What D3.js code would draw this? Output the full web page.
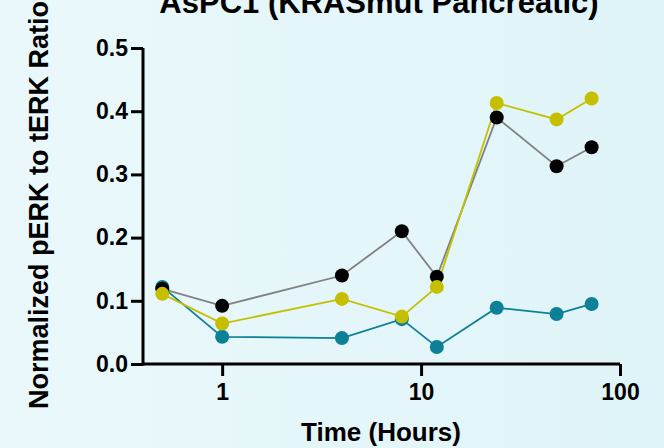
<!DOCTYPE html>
<html>
<head>
<meta charset="utf-8">
<script src="https://cdn.jsdelivr.net/npm/d3@7"></script>
<style>
  html, body { margin: 0; padding: 0; }
  body { width: 664px; height: 448px; overflow: hidden; }
  text { font-family: "Liberation Sans", Arial, sans-serif; font-weight: bold; fill: #000; }
</style>
</head>
<body>
<div id="chart"></div>
<script>
// DATA
const hours = [0.5, 1, 4, 8, 12, 24, 48, 72]
const blackSeries = [0.119, 0.092, 0.140, 0.210, 0.138, 0.390, 0.313, 0.343]
const yellowSeries = [0.111, 0.064, 0.103, 0.075, 0.122, 0.413, 0.387, 0.420]
const tealSeries = [0.122, 0.043, 0.041, 0.071, 0.027, 0.089, 0.079, 0.095]
const xTicks = [1, 10, 100]
const yTicks = [0, 0.1, 0.2, 0.3, 0.4, 0.5]

const series = [
  { values: tealSeries, line: '#0b8096', dot: '#0b8096' },
  { values: blackSeries, line: '#808080', dot: '#000000' },
  { values: yellowSeries, line: '#c5bf00', dot: '#c5bf00' }
]

//BOX
const w = 664
const h = 448
const mLeft = 143
const mRight = 620
const mTop = 48
const mBottom = 364

const svg = d3.select('#chart')
  .append('svg')
  .attr('width', w)
  .attr('height', h)

// background gradient
const grad = svg.append('defs')
  .append('linearGradient')
  .attr('id', 'bg')
  .attr('x1', '0%').attr('x2', '100%').attr('y1', '0%').attr('y2', '0%')
grad.append('stop').attr('offset', '0%').attr('stop-color', '#eaf8fb')
grad.append('stop').attr('offset', '100%').attr('stop-color', '#dff4f8')

svg.append('rect')
  .attr('width', w)
  .attr('height', h)
  .attr('fill', 'url(#bg)')

//SCALES
const xScale = d3.scaleLog()
  .domain([0.4, 100])
  .range([mLeft, mRight])

const yScale = d3.scaleLinear()
  .domain([0, 0.5])
  .range([mBottom, mTop])

//AXES
const xaxis = d3.axisBottom(xScale)
  .tickValues(xTicks)
  .tickFormat(d3.format('d'))
  .tickSize(12)
  .tickPadding(8)

const yaxis = d3.axisLeft(yScale)
  .tickValues(yTicks)
  .tickFormat(d3.format('.1f'))
  .tickSize(12)
  .tickPadding(3)

const gx = svg.append('g')
  .attr('transform', 'translate(0,' + mBottom + ')')
  .call(xaxis)

const gy = svg.append('g')
  .attr('transform', 'translate(' + mLeft + ',0)')
  .call(yaxis)

gx.select('.domain').attr('d', `M${mLeft},0H${mRight}`)
gy.select('.domain').attr('d', `M0,${mBottom + 1.5}V${mTop}`)

;[gx, gy].forEach(g => {
  g.select('.domain').attr('stroke', '#000').attr('stroke-width', 3)
  g.selectAll('.tick line').attr('stroke', '#000').attr('stroke-width', 3)
  g.selectAll('.tick text').style('font-size', '23px').attr('fill', '#000')
})

//LINES + DOTS
const line = d3.line()
  .x((d, i) => xScale(hours[i]))
  .y(d => yScale(d))

series.forEach(s => {
  svg.append('path')
    .datum(s.values)
    .attr('fill', 'none')
    .attr('stroke', s.line)
    .attr('stroke-width', 1.8)
    .attr('d', line)
})

series.forEach(s => {
  svg.append('g')
    .selectAll('circle')
    .data(s.values)
    .enter()
    .append('circle')
    .attr('cx', (d, i) => xScale(hours[i]))
    .attr('cy', d => yScale(d))
    .attr('r', 7)
    .attr('fill', s.dot)
})

//TITLE (cut off at the top, as in the original)
svg.append('text')
  .text('AsPC1 (KRASmut Pancreatic)')
  .attr('x', 379)
  .attr('y', 13)
  .attr('text-anchor', 'middle')
  .style('font-size', '31px')

//x label
svg.append('text')
  .text('Time (Hours)')
  .attr('x', 381)
  .attr('y', 441)
  .attr('text-anchor', 'middle')
  .style('font-size', '26px')

//y label
svg.append('text')
  .text('Normalized pERK to tERK Ratio')
  .attr('text-anchor', 'middle')
  .attr('transform', 'translate(48,205) rotate(-90)')
  .style('font-size', '27px')
</script>
</body>
</html>
